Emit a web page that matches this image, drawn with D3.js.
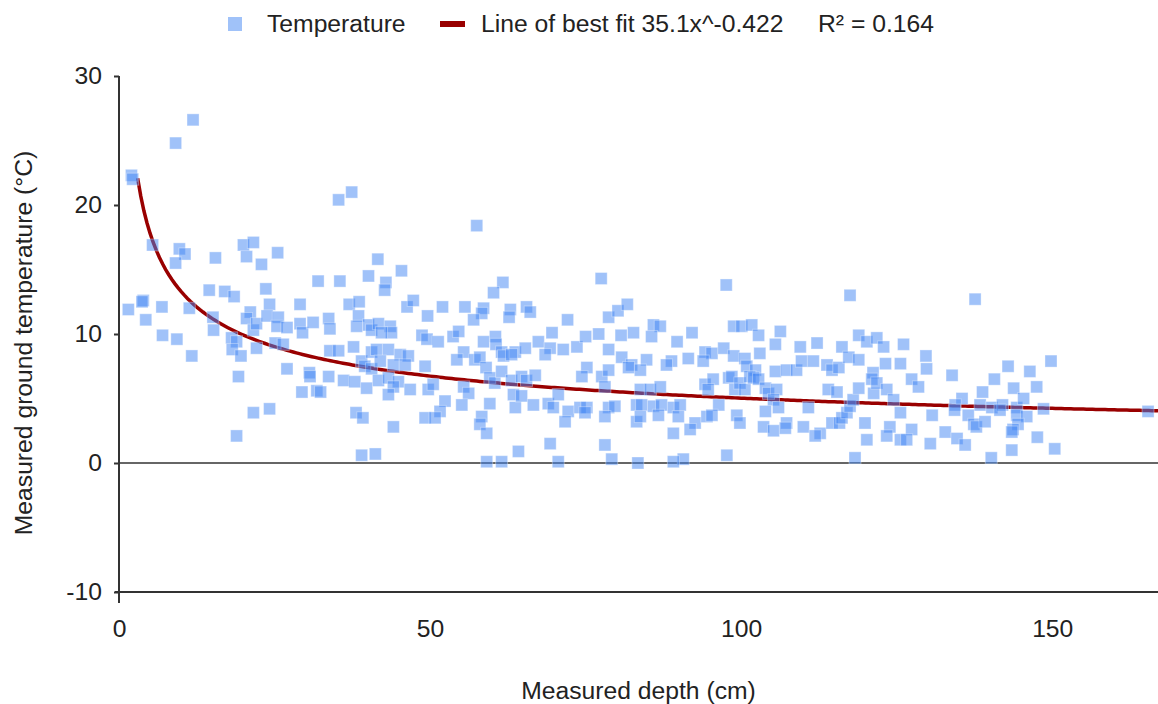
<!DOCTYPE html>
<html>
<head>
<meta charset="utf-8">
<script src="https://cdn.jsdelivr.net/npm/d3@7"></script>
<style>
  body { margin: 0; background: #fff; }
  text { font-family: "Liberation Sans", Arial, sans-serif; fill: #222; }
</style>
</head>
<body>
<script>
// measured depth (cm) and ground temperature (°C)
const depth = [
  2.0, 2.2, 9.1, 11.9, 35.3, 37.4, 5.4, 9.7, 10.6, 9.1, 15.5, 20.0, 21.6, 20.5, 22.9, 25.5, 32.0, 35.5, 40.1, 41.6,
  14.5, 17.0, 23.6, 57.5, 45.4, 42.9, 42.7, 61.7, 60.2, 77.5, 97.6,
  1.5, 3.9, 3.7, 4.3, 6.9, 7.0, 9.3, 11.7, 11.3, 18.5, 24.2, 29.1, 37.0, 38.6, 15.1, 15.2, 21.1, 20.5, 21.6,
  22.1, 23.8, 25.6, 25.4, 27.0, 29.1, 29.5, 31.2, 33.7, 33.9, 38.5, 38.2, 40.1, 40.6, 18.1, 18.9, 18.2, 19.6, 22.1, 25.1,
  26.4, 27.0, 19.2, 30.6, 30.7, 29.4, 31.8, 32.4, 33.7, 33.9, 35.3, 36.1, 37.9, 37.7, 39.0, 39.5, 39.8, 40.6, 40.6, 21.6,
  24.2, 18.9, 38.1, 39.2, 39.0, 41.2,
  46.3, 47.3, 52.0, 55.6, 58.6, 58.3, 57.0, 62.9, 62.7, 65.5, 66.1, 72.1, 78.7, 80.2, 81.7, 49.6, 41.7, 43.6, 43.8, 42.2,
  48.7, 49.5, 51.3, 53.7, 54.6, 55.4, 54.3, 58.6, 60.5, 60.6, 61.5, 61.8, 63.7, 63.1, 65.3, 67.4, 69.6, 69.3, 68.5, 71.4,
  73.6, 75.0, 77.1, 78.7, 80.7, 82.7, 80.8, 82.4, 41.4, 43.3, 45.2, 46.5, 42.0, 44.1, 46.0, 49.2, 41.7, 43.3, 44.9, 44.1,
  46.8, 43.3, 49.7, 50.5, 57.2, 58.0, 59.0, 59.6, 60.4, 61.5, 63.1, 64.7, 65.5, 66.9, 55.4, 56.2, 55.1, 52.4, 51.6, 49.2,
  50.8, 44.1, 59.6, 58.3, 58.0, 59.1, 63.4, 63.7, 64.7, 66.6, 69.0, 69.8, 70.6, 72.2, 71.7, 74.1, 75.2, 74.9, 75.2, 74.4,
  77.6, 78.7, 78.1, 78.7, 79.7, 78.1, 83.2, 81.9, 83.2, 69.3, 64.2, 78.1, 59.1, 61.5, 70.6, 79.2, 83.4,
  117.5, 85.9, 87.0, 85.6, 92.1, 89.7, 98.8, 100.1, 101.7, 102.8, 106.3, 105.5, 109.5, 112.2, 116.2, 118.9, 120.2, 121.8, 122.9, 126.1,
  84.8, 83.8, 88.8, 88.0, 91.5, 94.2, 95.3, 97.2, 98.8, 100.6, 100.9, 103.0, 102.3, 105.5, 107.3, 108.9, 109.7, 111.6, 113.8, 114.6,
  115.7, 117.3, 118.9, 121.2, 123.2, 125.6, 83.8, 85.4, 87.0, 84.0, 85.9, 87.2, 83.8, 86.7, 89.1, 90.2, 89.9, 92.6, 91.8, 89.1,
  94.2, 95.5, 94.7, 96.4, 94.5, 95.3, 98.0, 98.5, 99.0, 99.8, 100.6, 99.3, 99.8, 101.4, 102.0, 102.8, 103.9, 104.4, 105.7, 105.2,
  103.9, 106.0, 103.6, 105.2, 107.3, 107.1, 110.0, 110.8, 112.7, 111.9, 114.0, 115.4, 114.6, 115.8, 116.2, 117.0, 117.5, 118.0, 118.9, 121.0,
  121.3, 121.8, 123.4, 124.5, 125.6, 123.9, 123.4, 125.6, 119.9, 120.2, 118.3, 97.7, 90.7, 89.1, 93.9,
  137.6, 129.7, 129.8, 127.4, 128.5, 133.9, 142.9, 140.7, 146.4, 149.8, 143.8, 147.5, 138.8, 135.5, 134.4, 134.3, 138.4, 140.3, 142.0, 141.6,
  144.3, 145.4, 148.6, 136.5, 137.4, 137.8, 139.2, 144.3, 145.9, 144.5, 143.7, 143.5, 130.7, 127.4, 126.6, 132.8, 134.7, 136.0, 130.4, 147.6,
  150.4, 143.5, 140.2, 165.4
]
const temperature = [
  22.3, 22.0, 24.8, 26.6, 20.4, 21.0, 16.9, 16.6, 16.2, 15.5, 15.9, 16.9, 17.1, 16.0, 15.4, 16.3, 14.1, 14.1, 14.5, 15.8,
  13.4, 13.3, 13.5, 18.4, 14.9, 14.0, 13.4, 14.0, 13.2, 14.3, 13.8,
  11.9, 12.6, 12.5, 11.1, 12.1, 9.9, 9.6, 8.3, 12.0, 12.9, 12.3, 12.3, 12.3, 12.5, 11.3, 10.3, 11.7, 11.2, 10.3,
  10.8, 11.4, 11.3, 10.6, 10.5, 10.8, 10.1, 10.9, 11.2, 10.4, 11.4, 10.6, 10.7, 10.3, 9.7, 9.4, 8.8, 8.3, 8.9, 9.3,
  9.2, 7.3, 6.7, 7.0, 6.7, 5.5, 5.6, 5.5, 6.7, 8.7, 8.7, 6.4, 6.3, 9.0, 7.9, 7.5, 5.8, 8.6, 7.3, 3.9,
  4.2, 2.1, 3.9, 3.5, 0.6, 0.7,
  12.1, 12.6, 12.1, 12.1, 12.0, 11.6, 11.1, 11.9, 11.3, 12.1, 11.7, 11.1, 11.3, 11.8, 12.3, 11.4, 10.8, 10.6, 10.1, 10.1,
  9.9, 9.6, 9.4, 9.8, 10.2, 8.6, 8.0, 9.4, 9.8, 9.2, 8.6, 8.3, 8.6, 8.4, 8.9, 9.4, 10.1, 8.9, 8.4, 8.8,
  9.0, 9.8, 10.0, 8.8, 9.9, 10.1, 8.2, 7.6, 8.8, 8.8, 8.4, 8.3, 7.9, 7.6, 7.6, 7.5, 6.4, 6.6, 6.3, 5.9,
  5.7, 5.3, 5.7, 6.1, 8.0, 8.2, 7.4, 6.6, 6.2, 7.1, 6.4, 6.7, 6.4, 6.8, 5.9, 5.4, 4.5, 4.8, 4.0, 3.5,
  3.5, 2.8, 4.6, 3.6, 3.0, 2.3, 5.3, 4.3, 5.2, 4.5, 4.6, 4.3, 5.3, 4.0, 3.2, 4.3, 4.3, 3.9, 7.4, 6.7,
  6.7, 7.2, 5.9, 4.3, 4.4, 3.6, 4.5, 7.4, 3.2, 1.5, 0.9, 1.4, 0.1, 0.1, 0.1, 0.3, 0.0,
  13.0, 10.7, 10.6, 9.8, 10.1, 9.4, 10.6, 10.6, 10.7, 9.9, 10.2, 9.2, 9.0, 9.3, 9.0, 9.9, 9.4, 9.7, 9.0, 9.2,
  8.0, 7.2, 7.9, 7.6, 8.1, 8.6, 8.5, 8.9, 8.3, 8.1, 7.5, 8.5, 7.2, 7.1, 7.2, 7.2, 7.9, 7.9, 7.6, 7.2,
  7.4, 8.2, 8.0, 7.0, 7.7, 7.7, 5.7, 5.7, 5.9, 4.5, 4.4, 4.5, 3.6, 3.7, 4.3, 4.5, 3.6, 3.1, 2.6, 2.3,
  6.1, 6.5, 5.7, 4.5, 3.6, 3.7, 6.6, 6.7, 5.7, 6.2, 5.7, 3.7, 3.1, 6.7, 6.6, 6.5, 5.8, 5.4, 5.7, 4.9,
  4.0, 4.3, 2.8, 2.5, 3.1, 2.7, 2.8, 4.3, 2.3, 2.1, 5.7, 5.5, 3.1, 3.1, 3.5, 3.9, 4.4, 4.9, 5.8, 6.5,
  5.4, 6.2, 5.7, 4.9, 3.9, 2.8, 2.1, 1.8, 3.1, 1.8, 0.4, 0.6, 0.3, 0.1, 7.9,
  12.7, 8.3, 7.3, 6.5, 5.9, 6.8, 7.5, 6.5, 7.1, 7.9, 5.8, 5.9, 5.5, 5.0, 4.5, 4.1, 4.5, 4.3, 4.5, 4.1,
  4.3, 5.0, 4.2, 3.7, 3.0, 2.8, 3.2, 3.7, 3.6, 3.0, 2.6, 2.4, 3.7, 2.6, 1.8, 2.4, 1.9, 1.4, 1.5, 2.0,
  1.1, 1.0, 0.4, 4.0
]
const xTicks = [0, 50, 100, 150]
const yTicks = [-10, 0, 10, 20, 30]
// trendline y = a * x^b, as stated in the legend
const fitA = 35.1
const fitB = -0.422
const fitLabel = 'Line of best fit 35.1x^-0.422'
const r2Label = 'R² = 0.164'

const width = 1158
const height = 704
const margin = { top: 76, right: 0, bottom: 112, left: 119 }
const fontSize = '24.7px'

const points = depth.map((d, i) => ({ x: d, y: temperature[i] }))

const svg = d3.select('body').append('svg')
  .attr('width', width)
  .attr('height', height)

const xScale = d3.scaleLinear()
  .domain([0, 167])
  .range([margin.left, width - margin.right])
const yScale = d3.scaleLinear()
  .domain([-10, 30])
  .range([height - margin.bottom, margin.top])

// zero line
svg.append('line')
  .attr('x1', xScale(0)).attr('x2', width)
  .attr('y1', yScale(0)).attr('y2', yScale(0))
  .style('stroke', '#333').style('stroke-width', 1.5)

const xAxis = svg.append('g')
  .attr('transform', `translate(0, ${yScale(-10)})`)
  .call(d3.axisBottom(xScale).tickValues(xTicks).tickSize(0).tickPadding(27)
    .tickFormat(d => String(d)))
xAxis.select('.domain').remove()
xAxis.selectAll('text').style('font-size', fontSize).style('fill', '#222')
  .attr('font-family', null)
xAxis.append('line')
  .attr('x1', xScale(0) - 4).attr('x2', width)
  .style('stroke', '#333').style('stroke-width', 2)

const yAxis = svg.append('g')
  .attr('transform', `translate(${xScale(0)}, 0)`)
  .call(d3.axisLeft(yScale).tickValues(yTicks).tickSize(5).tickPadding(12)
    .tickFormat(d => String(d)))
yAxis.select('.domain').remove()
yAxis.selectAll('.tick line').style('stroke', '#333').style('stroke-width', 2)
yAxis.selectAll('text').style('font-size', fontSize).style('fill', '#222')
  .attr('font-family', null)
yAxis.append('line')
  .attr('y1', yScale(30)).attr('y2', yScale(-10) + 11)
  .style('stroke', '#333').style('stroke-width', 2)

// trendline
const fitX = d3.range(3, 167.01, 0.5)
const line = d3.line()
  .x(d => xScale(d))
  .y(d => yScale(fitA * Math.pow(d, fitB)))
svg.append('path')
  .datum(fitX)
  .style('fill', 'none')
  .style('stroke', '#990000')
  .style('stroke-width', 3.5)
  .attr('d', line)

const size = 12
svg.selectAll('.point')
  .data(points)
  .enter().append('rect')
  .attr('class', 'point')
  .attr('x', d => xScale(d.x) - size / 2)
  .attr('y', d => yScale(d.y) - size / 2)
  .attr('width', size)
  .attr('height', size)
  .style('fill', '#4285f4')
  .style('fill-opacity', 0.5)
  .style('stroke', '#fff')
  .style('stroke-opacity', 0.35)
  .style('stroke-width', 1)

// axis titles
svg.append('text')
  .attr('x', (xScale(0) + width) / 2)
  .attr('y', 699)
  .attr('text-anchor', 'middle')
  .style('font-size', fontSize)
  .text('Measured depth (cm)')
svg.append('text')
  .attr('transform', 'translate(32, 343) rotate(-90)')
  .attr('text-anchor', 'middle')
  .style('font-size', fontSize)
  .text('Measured ground temperature (°C)')

// legend
const legend = svg.append('g')
legend.append('rect')
  .attr('x', 228).attr('y', 17).attr('width', 14).attr('height', 14)
  .style('fill', '#4285f4').style('fill-opacity', 0.5)
legend.append('text')
  .attr('x', 267).attr('y', 32)
  .style('font-size', fontSize)
  .text('Temperature')
legend.append('rect')
  .attr('x', 440).attr('y', 21).attr('width', 25).attr('height', 6)
  .style('fill', '#990000')
legend.append('text')
  .attr('x', 481).attr('y', 32)
  .style('font-size', fontSize)
  .text(fitLabel)
legend.append('text')
  .attr('x', 818).attr('y', 32)
  .style('font-size', fontSize)
  .text(r2Label)
</script>
</body>
</html>
